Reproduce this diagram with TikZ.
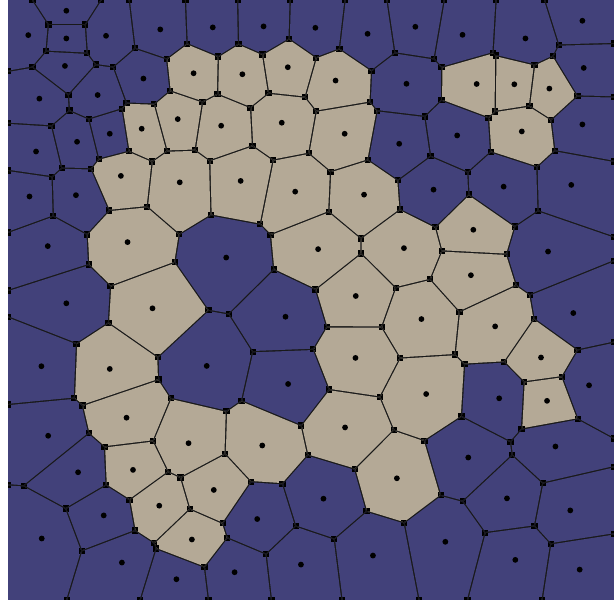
\documentclass[tikz,border=0pt]{standalone}
\definecolor{cB}{RGB}{66,65,122}
\definecolor{cT}{RGB}{180,169,150}
\newcommand\vsq[2]{\fill[black] ({#1-3.1},{#2-3.1}) rectangle ++(6.2,6.2);}
\begin{document}
\begin{tikzpicture}[x={(1.00987pt,0pt)},y={(0pt,-1.00334pt)}]
\useasboundingbox (0,0) rectangle (608,598);
\fill[white] (0,0) rectangle (608,598);
\fill[black!90] (8,0) rectangle (608,598);
\def\seeds{65.7/10.7/B, 28/35/B, 65.7/38.3/B, 105/35.7/B, 158.7/29.3/B, 210.7/27.3/B, 261/26.3/B, 312.3/27.7/B, 364/33.7/B, 411.3/26.7/B, 458/34.7/B, 520.3/38.3/B, 576.7/20.7/B,
64.3/65.7/B, 191.7/73/T, 142/78.3/B, 240/74/T, 285/67/T, 332.3/80.3/T, 402.5/83.5/B, 472/83.7/T, 509.3/84/T, 544/88.3/T, 578/67.7/B,
39/98.3/B, 96.7/94.7/B, 140.3/128.3/T, 176/118.7/T, 108.7/133.3/B, 76.3/141.3/B, 35.7/151/B, 219/125.3/T, 279/122.3/T, 341.3/133.3/T, 395.3/143.3/B, 452.7/135/B, 516.7/131/T, 576.7/124/B,
119.7/175.3/T, 178/181.7/T, 238.3/180.3/T, 292.3/191/T, 360.5/194/T, 429.3/189/B, 498.7/186/B, 565.7/184.3/B,
29.2/195.8/B, 75.2/194.5/B, 47.3/245.3/B, 126.3/241.3/T, 224/256.7/B, 315/248.3/T, 400/247.3/T, 468.7/229/T, 542.7/250.7/B,
65.7/302.3/B, 151/307.3/T, 282.7/315.7/B, 352.3/295/T, 466.3/274.3/T, 417.3/318/T, 490.3/325.3/T, 567.7/312/B,
41/365/B, 108.7/367.7/T, 204.7/364.7/B, 352/356.7/T, 285.3/382.7/B, 535.7/356.3/T, 583.3/384/B, 422/392.7/T, 494.3/397/B, 541.7/399.5/T,
125.3/416.3/T, 47.7/434.3/B, 186.7/441.7/T, 259.7/444/T, 341.7/426/T, 393/476.7/T, 463.7/456/B, 550/445/B,
77.3/470.7/B, 131.7/468.3/T, 211.7/488.3/T, 157.7/504/T, 102.7/513.7/B, 320.3/497/B, 502/496.7/B, 564.7/508.7/B,
254.7/517.3/B, 41.3/536.7/B, 190/537.7/T, 441/540/B, 120.7/560.7/B, 174.7/577.3/B, 232.3/570.3/B, 298/562.7/B, 369.3/553.7/B, 510.3/558/B, 574/567.7/B}
\def\gap{0.68}
\foreach \xa/\ya/\ca in \seeds {
  \gdef\cliplist{}%
  \gdef\nbrs{}%
  \foreach \xb/\yb/\cb in \seeds {%
    \pgfmathsetmacro\vdx{\xb-\xa}%
    \pgfmathsetmacro\vdy{\yb-\ya}%
    \pgfmathsetmacro\vdd{10*veclen(\vdx/10,\vdy/10)}%
    \ifdim\vdd pt>0.01pt
    \ifdim\vdd pt<135pt
      \pgfmathsetmacro\ux{\vdx/\vdd}%
      \pgfmathsetmacro\uy{\vdy/\vdd}%
      \pgfmathsetmacro\mx{(\xa+\xb)/2-\ux*\gap}%
      \pgfmathsetmacro\my{(\ya+\yb)/2-\uy*\gap}%
      \pgfmathsetmacro\pax{\mx-\uy*700}%
      \pgfmathsetmacro\pay{\my+\ux*700}%
      \pgfmathsetmacro\pbx{\mx+\uy*700}%
      \pgfmathsetmacro\pby{\my-\ux*700}%
      \pgfmathsetmacro\pcx{\pbx-\ux*700}%
      \pgfmathsetmacro\pcy{\pby-\uy*700}%
      \pgfmathsetmacro\pdx{\pax-\ux*700}%
      \pgfmathsetmacro\pdy{\pay-\uy*700}%
      \xdef\cliplist{\unexpanded\expandafter{\cliplist}\noexpand\clip (\pax,\pay)--(\pbx,\pby)--(\pcx,\pcy)--(\pdx,\pdy)--cycle;}%
      \ifdim\vdd pt<115pt
        \ifx\nbrs\empty\xdef\nbrs{\vdx/\vdy}\else\xdef\nbrs{\nbrs,\vdx/\vdy}\fi
      \fi
    \fi\fi
  }
  \begin{scope}
    \clip (8,0) rectangle (608,598);
    \cliplist
    \edef\curcol{c\ca}%
    \fill[fill=\curcol] (0,0) rectangle (608,598);
    \foreach \bx/\by [count=\ii] in \nbrs {%
      \foreach \cx/\cy [count=\jj] in \nbrs {%
        \ifnum\jj>\ii
          \pgfmathsetmacro\BX{\bx/10}%
          \pgfmathsetmacro\BY{\by/10}%
          \pgfmathsetmacro\CX{\cx/10}%
          \pgfmathsetmacro\CY{\cy/10}%
          \pgfmathsetmacro\Bn{\BX*\BX+\BY*\BY}%
          \pgfmathsetmacro\Cn{\CX*\CX+\CY*\CY}%
          \pgfmathsetmacro\vD{2*(\BX*\CY-\BY*\CX)}%
          \pgfmathsetmacro\NX{\CY*\Bn-\BY*\Cn}%
          \pgfmathsetmacro\NY{\BX*\Cn-\CX*\Bn}%
          \pgfmathsetmacro\vok{and(abs(\vD)>0.05,and(abs(\NX)<12*abs(\vD),abs(\NY)<12*abs(\vD)))}%
          \ifdim\vok pt>0.5pt
            \pgfmathsetmacro\qx{\xa+10*(\NX/\vD)}%
            \pgfmathsetmacro\qy{\ya+10*(\NY/\vD)}%
            \vsq{\qx}{\qy}
          \fi
        \fi
      }%
    }%
    \foreach \bx/\by in \nbrs {%
      \pgfmathsetmacro\Mx{\xa+\bx/2}%
      \pgfmathsetmacro\My{\ya+\by/2}%
      \pgfmathsetmacro\vok{and(abs(\xa-8)<100,abs(\by)>0.5)}%
      \ifdim\vok pt>0.5pt
        \pgfmathsetmacro\rr{\bx/\by}%
        \ifdim\rr pt<60pt \ifdim\rr pt>-60pt
          \pgfmathsetmacro\yy{\My-(8-\Mx)*\rr}%
          \vsq{8}{\yy}
        \fi\fi
      \fi
      \pgfmathsetmacro\vok{and(abs(\xa-608)<100,abs(\by)>0.5)}%
      \ifdim\vok pt>0.5pt
        \pgfmathsetmacro\rr{\bx/\by}%
        \ifdim\rr pt<60pt \ifdim\rr pt>-60pt
          \pgfmathsetmacro\yy{\My-(608-\Mx)*\rr}%
          \vsq{608}{\yy}
        \fi\fi
      \fi
      \pgfmathsetmacro\vok{and(abs(\ya)<100,abs(\bx)>0.5)}%
      \ifdim\vok pt>0.5pt
        \pgfmathsetmacro\rr{\by/\bx}%
        \ifdim\rr pt<60pt \ifdim\rr pt>-60pt
          \pgfmathsetmacro\xx{\Mx-(0-\My)*\rr}%
          \vsq{\xx}{0}
        \fi\fi
      \fi
      \pgfmathsetmacro\vok{and(abs(\ya-598)<100,abs(\bx)>0.5)}%
      \ifdim\vok pt>0.5pt
        \pgfmathsetmacro\rr{\by/\bx}%
        \ifdim\rr pt<60pt \ifdim\rr pt>-60pt
          \pgfmathsetmacro\xx{\Mx-(598-\My)*\rr}%
          \vsq{\xx}{598}
        \fi\fi
      \fi
    }%
  \end{scope}
}
\foreach \xa/\ya/\ca in \seeds {
  \fill[black] (\xa,\ya) circle[radius=2.9pt];
}
\end{tikzpicture}
\end{document}
